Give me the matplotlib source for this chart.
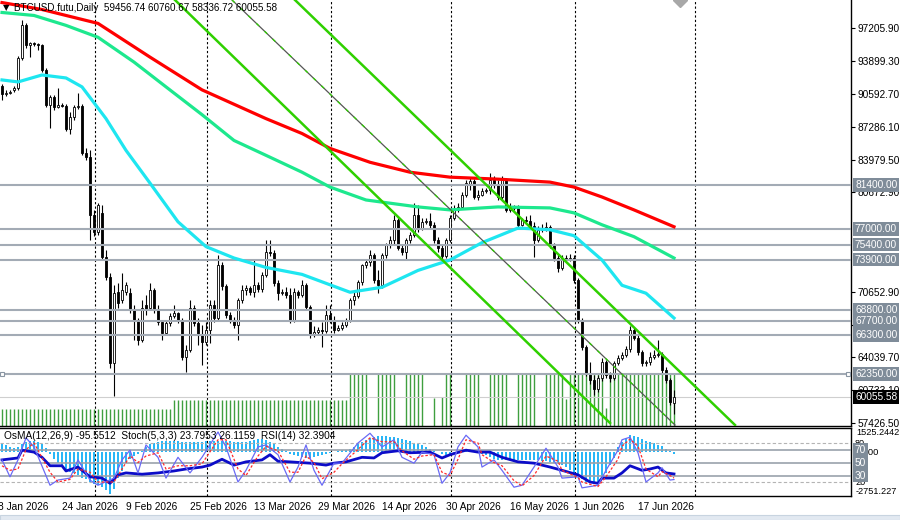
import datetime as dt
import numpy as np
import matplotlib
matplotlib.use("Agg")
import matplotlib.pyplot as plt
import matplotlib.transforms as mtrans
from matplotlib.patches import Rectangle

plt.rcParams['font.family'] = ['Liberation Sans', 'DejaVu Sans']
plt.rcParams['font.size'] = 7.3

# daily bars start here
first_day = dt.date(2026, 1, 8)

# OHLC in thousand USD
opens = [91.4, 90.6, 90.7, 91.0, 91.2, 94.2, 97.5, 95.5, 95.7, 95.6,
         95.5, 93.0, 89.5, 90.3, 89.3, 89.5, 89.4, 87.1, 88.3, 89.3,
         89.4, 84.6, 84.2, 78.4, 76.7, 78.6, 74.2, 72.1, 63.5, 70.6,
         69.8, 70.6, 70.5, 68.8, 67.8, 65.8, 69.3, 69.0, 70.8, 68.8,
         67.6, 66.5, 67.5, 68.2, 68.5, 67.8, 64.1, 64.8, 69.0, 67.5,
         66.3, 65.6, 66.8, 69.3, 68.0, 73.3, 71.2, 68.3, 67.8, 67.3,
         69.8, 70.8, 71.0, 70.6, 71.3, 70.9, 72.3, 74.7, 74.6, 71.5,
         70.5, 70.6, 70.3, 67.8, 70.6, 70.3, 71.3, 69.1, 66.3, 66.6,
         66.8, 66.7, 68.3, 67.8, 66.8, 67.0, 67.3, 67.8, 69.8, 70.2,
         71.6, 73.3, 73.6, 74.4, 71.8, 71.3, 74.4, 75.4, 75.9, 77.9,
         75.1, 74.7, 75.9, 76.4, 78.4, 77.1, 77.7, 77.8, 77.4, 75.9,
         75.1, 74.3, 75.9, 78.1, 78.9, 79.2, 80.4, 81.5, 81.8, 80.2,
         80.4, 80.8, 80.9, 81.9, 81.4, 80.2, 81.9, 78.9, 79.3, 79.1,
         77.4, 77.9, 77.8, 77.3, 75.9, 76.9, 77.1, 77.2, 75.4, 74.1,
         73.0, 74.1, 73.9, 74.1, 71.8, 67.8, 65.1, 62.5, 61.8, 60.8,
         62.0, 63.6, 62.3, 62.0, 63.5, 64.0, 64.3, 64.9, 66.8, 66.0,
         64.6, 63.5, 63.6, 64.1, 64.3, 64.4, 62.8, 61.8, 59.45674]
highs = [91.6, 91.0, 91.0, 91.4, 94.4, 98.0, 97.7, 95.8, 95.8, 95.7,
         95.6, 93.2, 90.5, 90.5, 91.2, 89.7, 89.6, 88.8, 89.5, 90.7,
         89.6, 85.1, 84.9, 78.9, 79.6, 79.4, 74.9, 72.5, 71.3, 71.5,
         72.5, 71.6, 71.0, 69.3, 68.0, 69.8, 70.3, 71.5, 71.0, 69.3,
         67.8, 67.8, 68.5, 69.3, 68.6, 68.0, 65.3, 69.8, 69.3, 68.0,
         67.3, 67.6, 69.8, 69.8, 74.4, 73.6, 71.4, 68.6, 68.1, 70.0,
         71.3, 71.3, 71.2, 73.9, 71.6, 72.6, 75.9, 75.9, 74.9, 71.8,
         70.9, 71.1, 71.0, 71.0, 70.8, 71.8, 71.5, 69.3, 67.2, 67.1,
         67.6, 69.3, 69.3, 68.2, 67.3, 67.6, 68.0, 70.0, 70.6, 71.8,
         73.4, 74.0, 74.9, 74.6, 72.8, 74.6, 75.6, 76.3, 78.4, 78.1,
         75.4, 76.1, 76.7, 79.6, 79.4, 78.1, 78.1, 78.6, 77.7, 76.2,
         75.5, 76.1, 78.4, 79.4, 79.6, 80.7, 81.9, 82.1, 82.0, 80.9,
         81.1, 81.1, 82.6, 82.3, 81.9, 82.3, 82.1, 79.6, 79.4, 79.4,
         78.1, 78.3, 78.4, 77.7, 77.3, 77.5, 77.7, 77.4, 75.6, 74.4,
         74.4, 74.4, 74.5, 74.4, 72.0, 68.0, 65.3, 63.6, 62.3, 62.3,
         64.0, 63.8, 62.6, 63.7, 64.3, 64.6, 65.2, 67.2, 67.1, 66.3,
         64.8, 63.8, 64.6, 64.8, 65.8, 64.6, 63.1, 62.0, 60.76067]
lows = [90.0, 90.4, 90.6, 90.8, 91.0, 94.0, 95.2, 94.3, 95.4, 95.0,
        92.8, 89.3, 87.2, 89.0, 89.2, 89.3, 86.9, 86.6, 88.0, 89.1,
        84.4, 83.9, 75.9, 76.3, 76.4, 73.9, 71.8, 63.0, 60.1, 69.0,
        69.5, 70.3, 68.5, 65.8, 65.3, 65.6, 68.3, 68.8, 68.5, 67.3,
        65.8, 66.3, 67.2, 68.0, 67.5, 63.8, 62.6, 64.6, 67.2, 65.3,
        63.3, 65.3, 65.5, 67.6, 67.8, 70.8, 68.0, 67.5, 67.0, 65.8,
        69.5, 70.3, 70.3, 70.1, 70.6, 70.6, 72.1, 74.3, 71.2, 69.8,
        70.3, 70.0, 67.5, 67.6, 70.0, 70.1, 68.8, 66.0, 66.1, 66.4,
        65.1, 66.5, 67.5, 66.5, 66.7, 66.8, 67.1, 67.6, 69.3, 70.0,
        71.3, 73.0, 73.2, 71.5, 70.5, 71.0, 74.1, 75.1, 75.4, 74.9,
        74.4, 73.9, 75.6, 76.2, 76.7, 76.9, 77.5, 77.1, 75.6, 74.7,
        73.9, 74.1, 75.7, 77.9, 78.7, 79.0, 80.2, 80.9, 80.0, 79.9,
        80.3, 80.6, 80.5, 81.1, 79.9, 80.0, 78.7, 78.7, 78.9, 77.1,
        77.3, 77.5, 77.1, 74.2, 75.7, 76.7, 76.8, 75.1, 73.7, 72.6,
        72.8, 73.8, 73.7, 71.5, 67.5, 64.8, 62.2, 61.4, 60.2, 60.5,
        61.7, 62.0, 61.6, 61.8, 63.3, 63.8, 64.1, 64.6, 65.8, 64.3,
        63.2, 63.2, 63.3, 63.9, 64.1, 62.5, 61.5, 59.2, 58.33672]
closes = [90.6, 90.7, 90.8, 91.2, 94.2, 97.5, 95.5, 95.7, 95.6, 95.5,
          93.0, 89.5, 90.3, 89.3, 89.5, 89.4, 87.1, 88.3, 89.3, 89.4,
          84.6, 84.2, 78.4, 76.7, 79.4, 74.2, 72.1, 63.5, 70.5, 69.5,
          70.8, 71.3, 68.8, 67.8, 65.8, 69.0, 68.8, 70.8, 68.8, 67.6,
          66.5, 67.5, 68.2, 68.5, 67.8, 64.1, 64.8, 69.0, 67.5, 66.3,
          65.6, 66.8, 69.3, 68.0, 73.3, 71.2, 68.3, 67.8, 67.3, 69.8,
          70.8, 71.0, 70.6, 71.3, 70.9, 72.3, 74.7, 74.6, 71.5, 70.5,
          70.6, 70.3, 67.8, 70.6, 70.3, 71.3, 69.1, 66.3, 66.6, 66.8,
          66.7, 68.3, 67.8, 66.8, 67.0, 67.3, 67.8, 69.8, 70.2, 71.6,
          73.3, 73.6, 74.4, 71.8, 71.3, 74.4, 75.4, 75.9, 77.9, 75.1,
          74.7, 75.9, 76.4, 78.4, 77.1, 77.7, 77.8, 77.4, 75.9, 75.1,
          74.3, 75.9, 78.1, 78.9, 79.2, 80.4, 81.6, 81.8, 80.2, 80.4,
          80.8, 80.9, 81.9, 81.4, 80.2, 81.9, 78.9, 79.3, 79.1, 77.4,
          77.9, 77.8, 77.3, 75.9, 76.9, 77.1, 77.2, 75.4, 74.1, 73.0,
          74.1, 73.9, 74.1, 71.8, 67.8, 65.1, 62.5, 61.8, 60.8, 62.0,
          63.6, 62.3, 62.0, 63.5, 64.0, 64.3, 64.9, 66.8, 66.0, 64.6,
          63.5, 63.6, 64.1, 64.3, 64.4, 62.8, 61.8, 59.5, 60.05558]

# green bars along the bottom of the price window
green_vals = [17, 17, 17, 17, 17, 17, 17, 17, 17, 17, 17, 17, 17, 17, 17,
              17, 17, 17, 17, 17, 17, 17, 17, 17, 17, 17, 17, 17, 17, 17,
              17, 17, 17, 17, 17, 17, 17, 17, 17, 17, 17, 17, 17,
              26, 26, 26, 26, 26, 26, 26, 26, 26, 26, 26, 26, 26, 26, 26,
              26, 26, 26, 26, 26, 26, 26, 26, 26, 26, 26, 26, 26, 26, 26,
              26, 26, 26, 26, 26, 26, 26, 26, 26, 26, 26, 26, 26, 26,
              52, 52, 52, 52, 52, 0, 0, 52, 52, 52, 52, 52, 0, 0,
              52, 52, 52, 52, 52, 0, 0, 28, 0, 29, 52, 52, 0, 0, 0,
              52, 52, 52, 52, 0, 0, 52, 52, 52, 52, 52, 0, 0,
              52, 52, 52, 52, 52, 0, 0, 52, 52, 52, 52, 52, 27,
              52, 52, 52, 52, 52, 52, 52, 52, 52, 18, 52, 52, 52, 52,
              52, 52, 52, 52, 52, 52, 52, 52, 52, 52, 52, 52, 52]

# moving averages (bar index, thousand USD)
red_idx = [0, 10, 24, 37, 50, 66, 75, 82, 92, 102, 112, 124, 137, 143, 150, 158, 168]
red_val = [99.8, 99.1, 97.7, 94.3, 91.0, 88.1, 86.6, 85.1, 83.7, 82.7, 82.2,
           82.0, 81.7, 81.2, 80.2, 78.9, 77.2]
teal_idx = [0, 8, 16, 24, 33, 41, 50, 58, 66, 75, 82, 91, 104, 112, 124, 137,
            143, 150, 158, 168]
teal_val = [98.8, 98.5, 97.5, 96.3, 93.8, 91.3, 88.5, 85.9, 84.4, 82.7, 81.2,
            79.9, 79.2, 78.9, 79.2, 79.1, 78.6, 77.4, 76.2, 74.05]
cyan_idx = [0, 4, 10, 16, 20, 26, 31, 37, 44, 51, 58, 66, 75, 87, 95, 104, 112,
            120, 129, 137, 143, 150, 155, 161, 168]
cyan_val = [92.0, 91.8, 92.5, 92.2, 91.3, 88.1, 84.9, 81.6, 77.7, 75.2, 74.05,
            73.1, 72.4, 70.6, 71.1, 72.8, 73.85, 75.6, 77.07, 76.9, 76.3, 73.85,
            71.3, 70.5, 68.0]

# down channel (start/end bar index, USD)
chan_x = [[43.25, 152.0], [73.25, 183.25], [57.5, 168.25]]
chan_y = [[100058, 57420], [100058, 57218], [100058, 57218]]

# horizontal levels
levels = [81400, 77000, 75400, 73900, 68800, 67700, 66300, 62350]
# scale labels (the two hidden under the 77000 / 73900 tags are left out)
price_ticks = [57426.50, 60733.10, 64039.70, 67346.30, 70652.90,
               80672.90, 83979.50, 87286.10, 90592.70, 93899.30, 97205.90]

# OsMA histogram, one per bar
osma = [500, 450, 350, 250, 300, 550, 660, 700, 680, 620, 500, 250, -100,
        -400, -700, -950, -1130, -1250, -1300, -1460, -1600, -1700, -1900,
        -2000, -2050, -2200, -2400, -2600, -2320,
        -1600, -1200, -660, -450, -265, -80,
        100, 300, 530, 600, 650, 700, 730, 720, 700, 680, 650, 630, 640, 650,
        660, 670, 690, 710, 720, 730, 720, 700, 680, 660, 650, 650, 660, 680,
        750, 820, 860, 800, 650, 530, 350, 200, 50,
        -100, -200, -250, -300, -330, -330, -300, -250, -200, -130, -50,
        30, 80, 120, 170, 200, 350, 500, 650, 800, 900, 990, 1020, 1030, 1010,
        990, 950, 880, 820, 750, 680, 600, 530, 430, 330, 220, 100, 0, -130,
        -200, -180, -100, 50, 150, 200, 200, 150, 50,
        -100, -200, -300, -400, -460, -470, -480, -470, -460, -460, -470, -480,
        -490, -500, -510, -530, -560, -600, -650, -700, -800, -950, -1100,
        -1300, -1500, -1700, -1850, -1920, -1950, -1850, -1600, -1300, -800, -330,
        300, 650, 900, 1060, 1020, 950, 850, 730, 650, 560, 480, 380, 200, 60,
        -95.5512]

# RSI(14)
rsi_idx = [0, 4, 5, 8, 10, 12, 15, 16, 19, 22, 25, 27, 29, 31, 35, 39, 43, 46,
           50, 52, 55, 58, 61, 65, 67, 69, 72, 77, 81, 83, 86, 90, 93, 95, 99,
           102, 107, 110, 112, 116, 119, 122, 125, 129, 133, 137, 140, 144, 147,
           149, 150, 153, 155, 157, 160, 162, 164, 166, 168]
rsi_val = [54, 57, 69, 66, 58, 45, 45, 37, 43, 28, 26, 18, 31, 34, 32, 34, 37,
           40, 43, 46, 55, 46, 51, 54, 62, 52, 51, 49, 46, 49, 51, 58, 57, 65,
           68, 65, 66, 57, 62, 69, 66, 66, 58, 51, 49, 43, 38, 31, 20, 18, 26,
           26, 34, 45, 38, 40, 43, 34, 32.3904]

# Stochastic(5,3,3)
st_idx = [0, 2, 4, 6, 8, 12, 14, 17, 19, 22, 24, 28, 30, 32, 34, 36, 39, 41,
          44, 47, 50, 54, 56, 59, 61, 64, 66, 69, 72, 74, 76, 78, 80, 83, 85,
          89, 92, 95, 98, 100, 103, 105, 108, 110, 112, 114, 116, 119, 120, 123,
          125, 128, 130, 133, 136, 139, 140, 144, 145, 149, 151, 154, 155, 157,
          159, 161, 164, 165, 167, 168]
st_main = [54, 28, 54, 88, 74, 15, 23, 26, 54, 23, 15, 26, 54, 69, 34, 77, 58,
           26, 58, 34, 58, 97, 74, 20, 38, 74, 77, 62, 20, 43, 77, 38, 15, 49,
           49, 80, 95, 74, 85, 58, 49, 66, 62, 18, 34, 74, 92, 74, 43, 54, 38,
           12, 15, 43, 72, 43, 26, 28, 11, 15, 38, 69, 85, 89, 65, 20, 34, 42,
           23, 23.7953]
st_sig = [45, 38, 40, 70, 80, 35, 20, 24, 40, 35, 20, 20, 40, 60, 50, 60, 65,
          40, 45, 45, 48, 85, 85, 40, 30, 60, 75, 68, 35, 35, 60, 50, 25, 35,
          48, 70, 88, 82, 82, 68, 55, 60, 62, 35, 30, 55, 85, 80, 62, 50, 45,
          22, 14, 30, 60, 52, 38, 27, 20, 13, 28, 55, 75, 86, 75, 40, 28, 36,
          30, 26.1159]

# date labels and month separators
date_labels = ["8 Jan 2026", "24 Jan 2026", "9 Feb 2026", "25 Feb 2026",
               "13 Mar 2026", "29 Mar 2026", "14 Apr 2026", "30 Apr 2026",
               "16 May 2026", "1 Jun 2026", "17 Jun 2026"]
month_starts = ["2026-02-01", "2026-03-01", "2026-04-01", "2026-05-01",
                "2026-06-01", "2026-07-01"]

o = np.array(opens) * 1000
h = np.array(highs) * 1000
l = np.array(lows) * 1000
c = np.array(closes) * 1000
idx = np.arange(len(c))

W, H = 900.0, 520.0


def box(x0, y0, x1, y1):
    return [x0 / W, 1 - y1 / H, (x1 - x0) / W, (y1 - y0) / H]


fig = plt.figure(figsize=(9, 5.2), dpi=100)
fig.patch.set_facecolor('white')

# ---- price window ----
ax = fig.add_axes(box(0, 0, 851, 426))
axv = ax.twinx()
ax.set_zorder(2)
axv.set_zorder(1)
ax.patch.set_visible(False)
axv.axis('off')
axv.set_ylim(0, 426)
axv.vlines(idx, 0, green_vals, color='#3f9f3f', lw=1.0)

ax.set_xlim(-0.5, 212.25)
ax.set_ylim(57117, 100058)

# month separators
sep_pos = [(dt.date.fromisoformat(d) - first_day).days - 0.75 for d in month_starts]
for x in sep_pos:
    ax.axvline(x, color='black', lw=0.8, ls=(0, (2, 2)), zorder=1)

# level lines
for lv in levels:
    ax.axhline(lv, color='#a3abb5', lw=1.5, zorder=5)
ax.axhline(c[-1], color='#cfcfcf', lw=0.8, zorder=1)

# candles
up = c >= o
ax.vlines(idx, l, h, color='black', lw=0.8, zorder=3)
ax.bar(idx, np.abs(c - o), bottom=np.minimum(o, c), width=0.72,
       color=np.where(up, 'white', 'black'), edgecolor='black', linewidth=0.6,
       zorder=4)

# moving averages
ax.plot(red_idx, np.array(red_val) * 1000, color='#ff0000', lw=2.3, zorder=6)
ax.plot(teal_idx, np.array(teal_val) * 1000, color='#1de88e', lw=2.3, zorder=6)
ax.plot(cyan_idx, np.array(cyan_val) * 1000, color='#1ee6f0', lw=2.3, zorder=6)

# channel
ax.plot(chan_x[0], chan_y[0], color='#2fd000', lw=1.8, zorder=7)
ax.plot(chan_x[1], chan_y[1], color='#2fd000', lw=1.8, zorder=7)
ax.plot(chan_x[2], chan_y[2], color='#555555', lw=0.9, zorder=7)
ax.plot(chan_x[2], chan_y[2], color='#2fd000', lw=0.9, ls=(0, (3, 6)), zorder=7)

# little markers
ax.plot([ax.get_xlim()[0] + 0.5, ax.get_xlim()[1] - 0.7], [62350, 62350],
        ls='none', marker='s', ms=3.5, mfc='white', mec='#8a96a3', mew=0.8,
        zorder=8, clip_on=False)
ax.plot([169.5], [100058], ls='none', marker='D', ms=7, color='#a8a8a8', zorder=8)

# right scale
ax.yaxis.tick_right()
ax.set_yticks(price_ticks)
ax.set_yticklabels([f"{v:.2f}" for v in price_ticks])
ax.tick_params(axis='y', length=3, width=0.8, pad=2, labelsize=7.3)
ax.set_xticks([])
for s in ['left', 'top']:
    ax.spines[s].set_visible(False)
for s in ['right', 'bottom']:
    ax.spines[s].set_linewidth(1.0)

tr = mtrans.blended_transform_factory(ax.transAxes, ax.transData)
for lv in levels:
    ax.text(1 + 4 / 851, lv, f"{lv:.2f}", transform=tr, ha='left', va='center',
            color='white', fontsize=7.3, clip_on=False, zorder=10,
            bbox=dict(boxstyle='square,pad=0.18', fc='#7f8c99', ec='none'))
ax.text(1 + 4 / 851, c[-1], f"{c[-1]:.2f}", transform=tr, ha='left', va='center',
        color='white', fontsize=7.3, clip_on=False, zorder=11,
        bbox=dict(boxstyle='square,pad=0.18', fc='black', ec='none'))

# header
fig.text(3 / W, 1 - 8 / H, "\u25bc", family='DejaVu Sans', fontsize=6, va='center')
fig.text(14 / W, 1 - 8 / H, "BTCUSD.futu,Daily  %.2f %.2f %.2f %.2f" % (o[-1], h[-1], l[-1], c[-1]),
         fontsize=7.1, va='center')

# ---- indicator window ----
axi = fig.add_axes(box(0, 428, 851, 496))
axi.set_xlim(ax.get_xlim())
axi.set_ylim(-2751.227, 1525.2442)
axi.bar(idx, osma, width=0.6, color='#29b6f6', zorder=2)
for x in sep_pos:
    axi.axvline(x, color='black', lw=0.8, ls=(0, (2, 2)), zorder=1)
axi.set_yticks([])
axi.spines['left'].set_visible(False)
for s in ['right', 'bottom', 'top']:
    axi.spines[s].set_linewidth(1.0)

axr = axi.twinx()
axr.set_ylim(-1.54, 103.1)
axr.axis('off')
for lv in [80, 20]:
    axr.axhline(lv, color='#b4b4b4', lw=0.8, ls=(0, (3, 2)))
for lv in [70, 50, 30]:
    axr.axhline(lv, color='#9aa2ab', lw=1.2)
axr.plot(rsi_idx, rsi_val, color='#0c0cc8', lw=2.0)
axr.plot(st_idx, st_main, color='#6a6af5', lw=0.9)
axr.plot(st_idx, st_sig, color='#ff2a2a', lw=0.9, ls=(0, (2, 1.5)))

tri = mtrans.blended_transform_factory(axi.transAxes, axi.transData)
axi.text(1 + 5 / 851, 1525.2442, "1525.2442", transform=tri, ha='left', va='top',
         fontsize=6.6, clip_on=False)
axi.text(1 + 10 / 851, 0, "0.00", transform=tri, ha='left', va='center',
         fontsize=6.8, clip_on=False)
axi.text(1 + 5 / 851, -2751.227, "-2751.227", transform=tri, ha='left', va='bottom',
         fontsize=6.6, clip_on=False)
trr = mtrans.blended_transform_factory(axr.transAxes, axr.transData)
for lv in [80, 20]:
    axr.text(1 + 4 / 851, lv, str(lv), transform=trr, ha='left', va='center',
             fontsize=6.6, clip_on=False)
for lv in [70, 50, 30]:
    axr.text(1 + 4 / 851, lv, str(lv), transform=trr, ha='left', va='center',
             fontsize=7.3, color='white', clip_on=False, zorder=10,
             bbox=dict(boxstyle='square,pad=0.18', fc='#7f8c99', ec='none'))

fig.text(4 / W, 1 - 436 / H,
         "OsMA(12,26,9) -95.5512  Stoch(5,3,3) 23.7953 26.1159  RSI(14) 32.3904",
         fontsize=7.3, va='center')

# dates along the bottom
date_pos = [(dt.datetime.strptime(d, "%d %b %Y").date() - first_day).days for d in date_labels]
axi.set_xticks(date_pos)
axi.set_xticklabels(date_labels)
axi.tick_params(axis='x', length=0, pad=4, labelsize=7.3)
shift = mtrans.ScaledTranslation(-0.04, 0, fig.dpi_scale_trans)
for lbl in axi.get_xticklabels():
    lbl.set_horizontalalignment('left')
    lbl.set_transform(lbl.get_transform() + shift)

# bottom strip
fig.patches.append(Rectangle((0, 0), 1, 5 / H, transform=fig.transFigure,
                             fc='#e2e9f1', ec='#c8d4e0', lw=0.8))

fig.savefig("out.png", dpi=100)
